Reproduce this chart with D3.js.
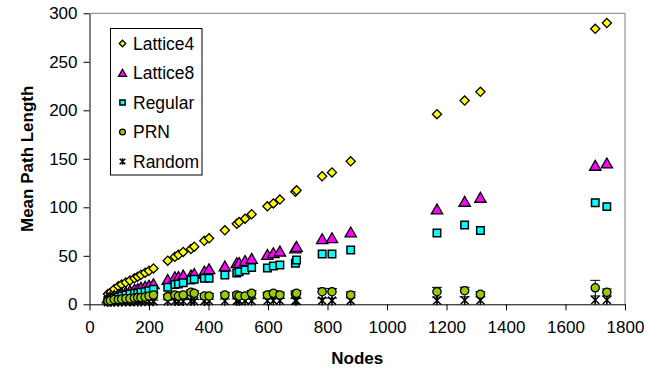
<!DOCTYPE html>
<html>
<head>
<meta charset="utf-8">
<script src="https://cdn.jsdelivr.net/npm/d3@7"></script>
<style>
  body { margin: 0; background: #fff; }
  text { font-family: "Liberation Sans", Arial, sans-serif; }
</style>
</head>
<body>
<script>
var width = 646,
    height = 368;

// network sizes (shared by all series)
var nodes = [62, 70, 83, 97, 108, 122, 136, 151, 162, 173, 187, 200, 215,
    263, 287, 299, 315, 341, 352, 386, 402, 455, 495, 503, 523, 545,
    598, 618, 640, 692, 696, 782, 815, 878, 1168, 1261, 1314, 1700, 1739];

var lattice4 = [10.5, 12, 15.5, 18.5, 20.5, 22.5, 24.5, 26.8, 28.5, 30.5, 32.6, 34.6, 37,
    45, 49, 51, 54, 57, 59.4, 65.5, 68, 76.3, 83, 84.8, 88.3, 92.8,
    101, 104, 108, 116, 117.5, 132, 136, 147.4, 196, 210, 219, 284, 290];

var lattice8 = [6, 7, 8.5, 9.5, 11, 12, 13.5, 15, 15.5, 17, 18, 19, 20.6,
    25, 27.8, 28, 29.5, 29.5, 31.2, 33.6, 36, 38.8, 42.2, 42.5, 44.6, 46.7,
    50.8, 52.6, 54.2, 57.5, 59, 67, 68, 74, 97.6, 105.5, 109.6, 142.6, 145];

var regular = [4, 5, 6.5, 7.5, 8.5, 9.5, 10.5, 11.5, 11.5, 12.4, 13, 14, 15.5,
    17.5, 20.3, 21, 22.3, 25, 25.8, 26.8, 26.8, 30.2, 32.3, 33.6, 35.4, 38,
    37.5, 39.5, 40.5, 42.3, 45.7, 51.9, 51.9, 56, 73.5, 81.8, 76, 104.8, 100.7];

var prn = [3.5, 4, 5, 5, 5.5, 6, 6, 6.5, 7, 7, 7.5, 8.5, 9.5,
    7.9, 9.6, 8.5, 9.6, 12.4, 11.3, 8.6, 8.6, 9.6, 9.6, 8.6, 8.6, 11.3,
    9.6, 11.3, 9.6, 10.5, 11.3, 13, 13, 9.6, 13, 14, 10.3, 17, 12.4];
var prnErr = [1, 1, 1.2, 1.2, 1.3, 1.3, 1.4, 1.5, 1.5, 1.6, 1.6, 1.8, 2,
    2, 2.2, 2.2, 2.4, 2.5, 2.5, 2.5, 2.6, 2.6, 2.7, 2.7, 2.7, 2.8,
    2.8, 2.8, 2.9, 3, 3, 3.5, 3.2, 3.2, 4.5, 3.6, 2.6, 7.7, 3.4];

var random = [2.2, 2.3, 2.4, 2.5, 2.5, 2.6, 2.7, 2.7, 2.8, 2.8, 2.9, 2.9, 3,
    3.1, 3.1, 3.2, 3.2, 3.3, 3.3, 3.3, 3.4, 3.4, 3.5, 3.5, 3.5, 3.5,
    3.6, 3.6, 3.6, 3.7, 3.7, 3.8, 3.8, 3.8, 4, 4.1, 4.1, 4.4, 4.4];
var randomErr = [0.8, 0.8, 0.9, 0.9, 1, 1, 1, 1.1, 1.1, 1.2, 1.2, 1.2, 1.3,
    1.5, 1.5, 1.6, 1.6, 1.7, 1.7, 1.8, 1.8, 2, 2, 2, 2.1, 2.1,
    2.2, 2.2, 2.3, 2.4, 2.4, 2.6, 2.6, 2.8, 3.5, 3.6, 3.6, 4.2, 4.2];

var seriesNames = ["Lattice4", "Lattice8", "Regular", "PRN", "Random"];
var xTicks = [0, 200, 400, 600, 800, 1000, 1200, 1400, 1600, 1800];
var yTicks = [0, 50, 100, 150, 200, 250, 300];

var margin = {left: 89.5, right: 21, top: 13.3, bottom: 63.7};

var svg = d3.select("body").append("svg")
    .attr("width", width)
    .attr("height", height);

var x = d3.scaleLinear().domain([0, 1800]).range([margin.left, width - margin.right]);
var y = d3.scaleLinear().domain([0, 300]).range([height - margin.bottom, margin.top]);

// plot area border (top and right are grey)
svg.append("path")
    .attr("d", "M" + x(0) + "," + y(300) + "H" + x(1800) + "V" + y(0))
    .attr("fill", "none")
    .attr("stroke", "#808080")
    .attr("stroke-width", 1);

var xAxis = svg.append("g")
    .attr("transform", "translate(0," + y(0) + ")")
    .call(d3.axisBottom(x).tickValues(xTicks).tickFormat(d3.format("d"))
        .tickSize(6).tickSizeOuter(0).tickPadding(11));
var yAxis = svg.append("g")
    .attr("transform", "translate(" + x(0) + ",0)")
    .call(d3.axisLeft(y).tickValues(yTicks).tickSize(6).tickSizeOuter(0).tickPadding(6));

[xAxis, yAxis].forEach(function (g) {
    g.selectAll("path, line").attr("stroke", "#000");
    g.selectAll("text")
        .attr("fill", "#000")
        .style("font-family", "'Liberation Sans', Arial, sans-serif")
        .style("font-size", "17px");
});

svg.append("text")
    .attr("x", (x(0) + x(1800)) / 2)
    .attr("y", 364)
    .attr("text-anchor", "middle")
    .style("font-size", "17px")
    .style("font-weight", "bold")
    .text("Nodes");

svg.append("text")
    .attr("transform", "translate(33," + (y(0) + y(300)) / 2 + ") rotate(-90)")
    .attr("text-anchor", "middle")
    .style("font-size", "17px")
    .style("font-weight", "bold")
    .text("Mean Path Length");

// marker drawing
function starPath(r) {
    return "M" + (-r) + "," + (-r) + "L" + r + "," + r +
        "M" + r + "," + (-r) + "L" + (-r) + "," + r +
        "M0," + (-r * 1.2) + "L0," + (r * 1.2);
}

function drawMarker(g, type, scale) {
    var s = scale || 1;
    if (type === "Lattice4") {
        g.append("path")
            .attr("d", d3.symbol(d3.symbolSquare, 42 * s * s)())
            .attr("transform", "rotate(45)")
            .attr("fill", "#ffff00").attr("stroke", "#000").attr("stroke-width", 1.3);
    } else if (type === "Lattice8") {
        g.append("path")
            .attr("d", d3.symbol(d3.symbolTriangle, 56 * s * s)())
            .attr("transform", "translate(0,1)")
            .attr("fill", "#ff00ff").attr("stroke", "#000").attr("stroke-width", 1.3);
    } else if (type === "Regular") {
        g.append("path")
            .attr("d", d3.symbol(d3.symbolSquare, 56 * s * s)())
            .attr("fill", "#00ffff").attr("stroke", "#000").attr("stroke-width", 1.5);
    } else if (type === "PRN") {
        g.append("path")
            .attr("d", d3.symbol(d3.symbolCircle, 54 * s * s)())
            .attr("fill", "#99cc00").attr("stroke", "#000").attr("stroke-width", 1.3);
    } else {
        g.append("path")
            .attr("d", starPath(4 * s))
            .attr("fill", "none").attr("stroke", "#000").attr("stroke-width", 1.5);
    }
}

function errorBars(values, errs) {
    var g = svg.append("g").attr("stroke", "#000").attr("stroke-width", 1);
    nodes.forEach(function (n, i) {
        var cx = x(n), top = y(values[i] + errs[i]), bot = y(Math.max(0, values[i] - errs[i]));
        g.append("line").attr("x1", cx).attr("x2", cx).attr("y1", top).attr("y2", bot);
        g.append("line").attr("x1", cx - 5).attr("x2", cx + 5).attr("y1", top).attr("y2", top);
    });
}

function drawSeries(name, values) {
    var g = svg.append("g");
    nodes.forEach(function (n, i) {
        var m = g.append("g").attr("transform", "translate(" + x(n) + "," + y(values[i]) + ")");
        drawMarker(m, name);
    });
}

errorBars(random, randomErr);
errorBars(prn, prnErr);
drawSeries("Lattice4", lattice4);
drawSeries("Lattice8", lattice8);
drawSeries("Regular", regular);
drawSeries("Random", random);
drawSeries("PRN", prn);

// legend
var legend = svg.append("g");
legend.append("rect")
    .attr("x", 110.5).attr("y", 28.5)
    .attr("width", 91.5).attr("height", 146.5)
    .attr("fill", "#fff").attr("stroke", "#000").attr("stroke-width", 1);

seriesNames.forEach(function (name, i) {
    var cy = 43.5 + i * 29.5;
    var m = legend.append("g").attr("transform", "translate(122.5," + cy + ")");
    drawMarker(m, name, 0.7);
    legend.append("text")
        .attr("x", 133)
        .attr("y", cy + 6)
        .style("font-size", "17.5px")
        .text(name);
});
</script>
</body>
</html>
